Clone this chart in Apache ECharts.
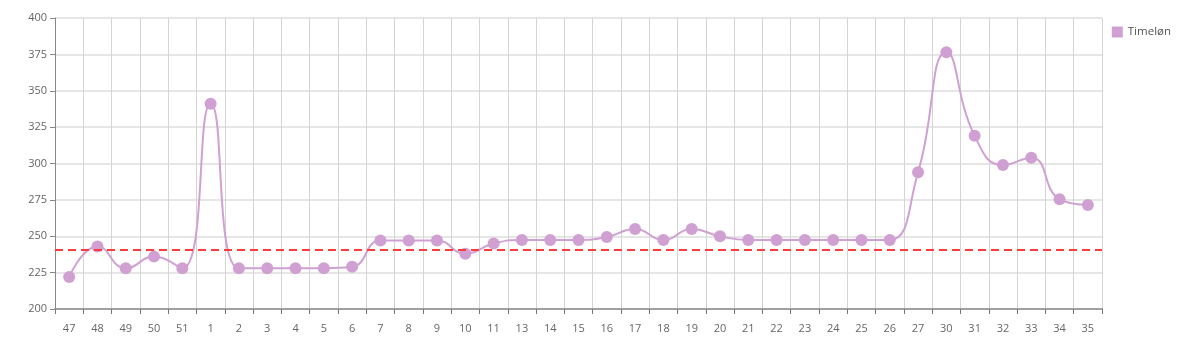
<!DOCTYPE html>
<html><head><meta charset="utf-8">
<script src="https://cdn.jsdelivr.net/npm/echarts@6/dist/echarts.min.js"></script>
<style>html,body{margin:0;padding:0;background:#fff}#c{width:1182px;height:358px}</style>
</head><body><div id="c"></div>
<script>
const categories = ['47','48','49','50','51','1','2','3','4','5','6','7','8','9','10','11','13','14','15','16','17','18','19','20','21','22','23','24','25','26','27','30','31','32','33','34','35'];
const timelon = [222,243,228,236,228,341,228,228,228,228,229,247,247,247,238,245,247.5,247.5,247.5,249.5,255,247.5,255,250,247.5,247.5,247.5,247.5,247.5,247.5,294,376.5,319,299,304,275.5,271.5];
const avgLine = 241;
const yTicks = {min:200, max:400, interval:25};

const chart = echarts.init(document.getElementById('c'), null, {renderer:'canvas'});
const font = 'Segoe UI, "Open Sans", "Noto Sans", sans-serif';
chart.setOption({
  animation:false,
  textStyle:{fontFamily:font},
  grid:{left:55, right:80, top:18, bottom:49},
  legend:{
    right:6, top:21, orient:'vertical',
    itemWidth:11, itemHeight:11, icon:'rect', itemGap:8,
    textStyle:{fontSize:11.5, color:'#555', fontFamily:font},
    data:['Timeløn']
  },
  xAxis:{
    type:'category', data:categories, boundaryGap:true,
    axisLine:{lineStyle:{color:'#a0a0a0', width:2}},
    axisTick:{show:true, lineStyle:{color:'#777'}, length:5},
    axisLabel:{color:'#666', fontSize:11, margin:14, interval:0},
    splitLine:{show:true, lineStyle:{color:'#d4d4d4', width:1}}
  },
  yAxis:{
    type:'value', min:yTicks.min, max:yTicks.max, interval:yTicks.interval,
    axisLine:{show:true, lineStyle:{color:'#888', width:1}},
    axisTick:{show:true, length:5, lineStyle:{color:'#888'}},
    axisLabel:{color:'#666', fontSize:11, margin:8},
    splitLine:{show:true, lineStyle:{color:'#e6e6e6', width:2}}
  },
  series:[{
    name:'Timeløn', type:'line', data:timelon, smooth:true,
    symbol:'circle', symbolSize:12,
    itemStyle:{color:'#d0a0d3'},
    lineStyle:{color:'#d0a0d3', width:2},
    markLine:{
      silent:true, symbol:'none', label:{show:false},
      lineStyle:{color:'#ff3b3b', type:[8,5], width:2},
      data:[{yAxis:avgLine}]
    }
  }]
});
</script></body></html>
